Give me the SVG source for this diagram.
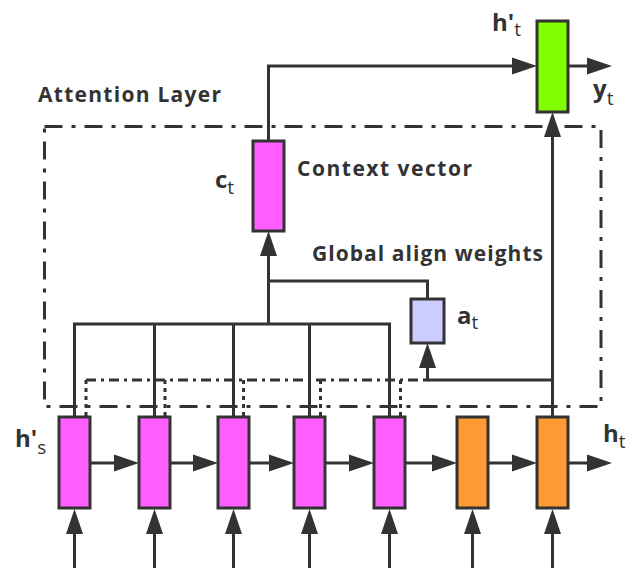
<svg xmlns="http://www.w3.org/2000/svg" width="626" height="568" viewBox="0 0 626 568">
<style>
.box{stroke:#333;stroke-width:3}
.mag{fill:#ff5eff}
.org{fill:#ff9933}
.grn{fill:#80ff00}
.lav{fill:#ccccff}
.ln{fill:none;stroke:#333;stroke-width:3}
.arr{fill:none;stroke:#333;stroke-width:3;marker-end:url(#ah)}
.att{fill:none;stroke:#333;stroke-width:3;stroke-dasharray:18 9 4 9}
.dd{fill:none;stroke:#333;stroke-width:3;stroke-dasharray:10 5 3 5}
.dot{fill:none;stroke:#333;stroke-width:3;stroke-dasharray:4 4}
text{font-family:"Open Sans","Noto Sans","DejaVu Sans",sans-serif;fill:#333}
.t{font-size:21px;font-weight:bold}
.m{font-size:24px;font-weight:bold}
.s{font-size:19px;font-weight:normal}
</style>
<defs>
<marker id="ah" markerUnits="userSpaceOnUse" markerWidth="26" markerHeight="18" refX="0" refY="8.5" orient="auto" overflow="visible">
<path d="M0,0 L25,8.5 L0,17 Z" fill="#333"/>
</marker>
</defs>

<g id="attention-layer">
<rect class="att" x="44.5" y="126.5" width="556.5" height="280"/>
<text class="t" x="38" y="102" textLength="183" lengthAdjust="spacing">Attention Layer</text>
</g>

<g id="connectors">
<path class="arr" d="M90,463 H114"/>
<path class="arr" d="M170,463 H193"/>
<path class="arr" d="M249,463 H269"/>
<path class="arr" d="M325,463 H349"/>
<path class="arr" d="M405,463 H432"/>
<path class="arr" d="M488,463 H512"/>
<path class="arr" d="M568,463 H587"/>
<path class="arr" d="M74.5,568 V534"/>
<path class="arr" d="M154.5,568 V534"/>
<path class="arr" d="M233.5,568 V534"/>
<path class="arr" d="M309.5,568 V534"/>
<path class="arr" d="M389.5,568 V534"/>
<path class="arr" d="M472.5,568 V534"/>
<path class="arr" d="M552.5,568 V534"/>
<path class="ln" d="M74.5,417 V324 H389.5 V417"/>
<path class="ln" d="M154.5,324 V417"/>
<path class="ln" d="M233.5,324 V417"/>
<path class="ln" d="M309.5,324 V417"/>
<path class="arr" d="M268.5,324 V256"/>
<path class="ln" d="M268.5,281 H427.5 V299"/>
<path class="dd" d="M86,380 H427.5"/>
<path class="dot" d="M86,380 V417"/>
<path class="dot" d="M165,380 V417"/>
<path class="dot" d="M243.5,380 V417"/>
<path class="dot" d="M320.5,380 V417"/>
<path class="dot" d="M400.5,380 V417"/>
<path class="ln" d="M427.5,380 H552.5"/>
<path class="arr" d="M427.5,381.5 V368"/>
<path class="arr" d="M552.5,417 V137"/>
<path class="arr" d="M268.5,141 V66 H512"/>
<path class="arr" d="M568,66 H587"/>
</g>

<g id="h1"><rect class="box mag" x="59" y="417" width="31" height="91"/></g>
<g id="h2"><rect class="box mag" x="139" y="417" width="31" height="91"/></g>
<g id="h3"><rect class="box mag" x="218" y="417" width="31" height="91"/></g>
<g id="h4"><rect class="box mag" x="294" y="417" width="31" height="91"/></g>
<g id="h5"><rect class="box mag" x="374" y="417" width="31" height="91"/></g>
<g id="h6"><rect class="box org" x="457" y="417" width="31" height="91"/></g>
<g id="h7"><rect class="box org" x="537" y="417" width="31" height="91"/></g>

<g id="ct">
<rect class="box mag" x="253" y="141" width="31" height="90"/>
<text x="215" y="188"><tspan class="m">c</tspan><tspan class="s" dy="6">t</tspan></text>
<text class="t" x="297" y="176" textLength="175" lengthAdjust="spacing">Context vector</text>
</g>

<g id="at">
<rect class="box lav" x="411" y="299" width="33" height="44"/>
<text x="457" y="324"><tspan class="m">a</tspan><tspan class="s" dy="5">t</tspan></text>
<text class="t" x="312" y="261" textLength="231" lengthAdjust="spacing">Global align weights</text>
</g>

<g id="htprime">
<rect class="box grn" x="537" y="21" width="31" height="91"/>
<text x="492" y="31"><tspan class="m">h'</tspan><tspan class="s" dy="5">t</tspan></text>
<text x="593" y="97"><tspan class="m">y</tspan><tspan class="s" dy="8">t</tspan></text>
</g>

<g id="labels">
<text x="15" y="447"><tspan class="m">h'</tspan><tspan class="s" dy="7">s</tspan></text>
<text x="603" y="442"><tspan class="m">h</tspan><tspan class="s" dy="6">t</tspan></text>
</g>
</svg>
